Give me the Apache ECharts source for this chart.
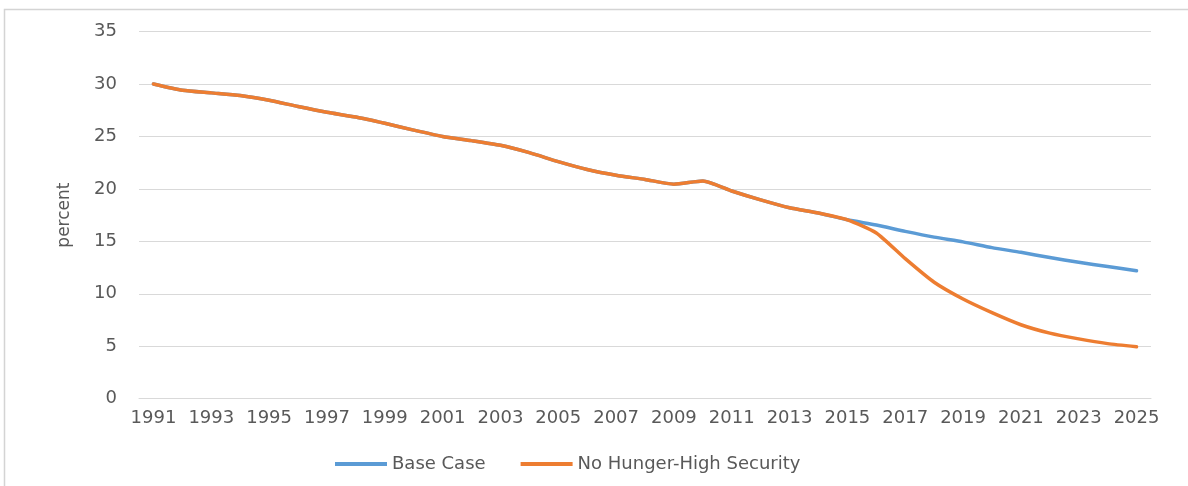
<!DOCTYPE html>
<html>
<head>
<meta charset="utf-8">
<script src="https://cdn.jsdelivr.net/npm/echarts@6/dist/echarts.min.js"></script>
<style>
  html, body { margin: 0; padding: 0; background: #ffffff; }
  #chart { width: 1188px; height: 486px; }
</style>
</head>
<body>
<div id="chart"></div>
<script>
// Years on the category axis
const years = [
  '1991','1992','1993','1994','1995','1996','1997','1998','1999','2000',
  '2001','2002','2003','2004','2005','2006','2007','2008','2009','2010',
  '2011','2012','2013','2014','2015','2016','2017','2018','2019','2020',
  '2021','2022','2023','2024','2025'
];

// Share of population, percent
const baseCase = [
  30.0, 29.4, 29.15, 28.9, 28.45, 27.85, 27.3, 26.85, 26.25, 25.6,
  25.0, 24.6, 24.15, 23.45, 22.6, 21.85, 21.3, 20.9, 20.45, 20.75,
  19.8, 18.95, 18.2, 17.7, 17.05, 16.55, 15.95, 15.4, 14.95, 14.4,
  13.95, 13.45, 13.0, 12.6, 12.2
];

const noHungerHighSecurity = [
  30.0, 29.4, 29.15, 28.9, 28.45, 27.85, 27.3, 26.85, 26.25, 25.6,
  25.0, 24.6, 24.15, 23.45, 22.6, 21.85, 21.3, 20.9, 20.45, 20.75,
  19.8, 18.95, 18.2, 17.7, 17.05, 15.8, 13.35, 11.1, 9.5, 8.2,
  7.05, 6.25, 5.7, 5.25, 4.95
];

const seriesNames = ['Base Case', 'No Hunger-High Security'];

const textColor = '#595959';
const gridColor = '#d9d9d9';
const fontFamily = '"DejaVu Sans", sans-serif';

const chart = echarts.init(document.getElementById('chart'), null, { renderer: 'canvas' });

chart.setOption({
  animation: false,
  backgroundColor: '#ffffff',
  graphic: [
    {
      type: 'polyline',
      shape: { points: [[4.5, 486], [4.5, 9.5], [1188, 9.5]] },
      style: { stroke: '#d4d4d4', lineWidth: 1.5, fill: null },
      silent: true
    }
  ],
  grid: { left: 139, right: 37, top: 31.5, bottom: 87.3 },
  legend: {
    left: 330,
    top: 450,
    icon: 'rect',
    itemWidth: 52,
    itemHeight: 4,
    itemGap: 35,
    textStyle: { color: textColor, fontSize: 18, fontFamily: fontFamily },
    data: seriesNames
  },
  xAxis: {
    type: 'category',
    data: years,
    boundaryGap: true,
    axisLine: { show: true, lineStyle: { color: gridColor, width: 1 } },
    axisTick: { show: false },
    axisLabel: {
      interval: 1,
      color: textColor,
      fontSize: 18,
      fontFamily: fontFamily,
      margin: 11
    }
  },
  yAxis: {
    type: 'value',
    min: 0,
    max: 35,
    interval: 5,
    name: 'percent',
    nameLocation: 'middle',
    nameGap: 66,
    nameRotate: 90,
    nameTextStyle: { color: textColor, fontSize: 17, fontFamily: fontFamily },
    axisLine: { show: false },
    axisTick: { show: false },
    splitLine: { lineStyle: { color: gridColor, width: 1 } },
    axisLabel: {
      color: textColor,
      fontSize: 18,
      fontFamily: fontFamily,
      margin: 22
    }
  },
  series: [
    {
      name: seriesNames[0],
      type: 'line',
      data: baseCase,
      smooth: 0.2,
      showSymbol: false,
      lineStyle: { color: '#5b9bd5', width: 3.5, cap: 'round', join: 'round' },
      itemStyle: { color: '#5b9bd5' },
      z: 2
    },
    {
      name: seriesNames[1],
      type: 'line',
      data: noHungerHighSecurity,
      smooth: 0.2,
      showSymbol: false,
      lineStyle: { color: '#ed7d31', width: 3.5, cap: 'round', join: 'round' },
      itemStyle: { color: '#ed7d31' },
      z: 3
    }
  ]
});
</script>
</body>
</html>
